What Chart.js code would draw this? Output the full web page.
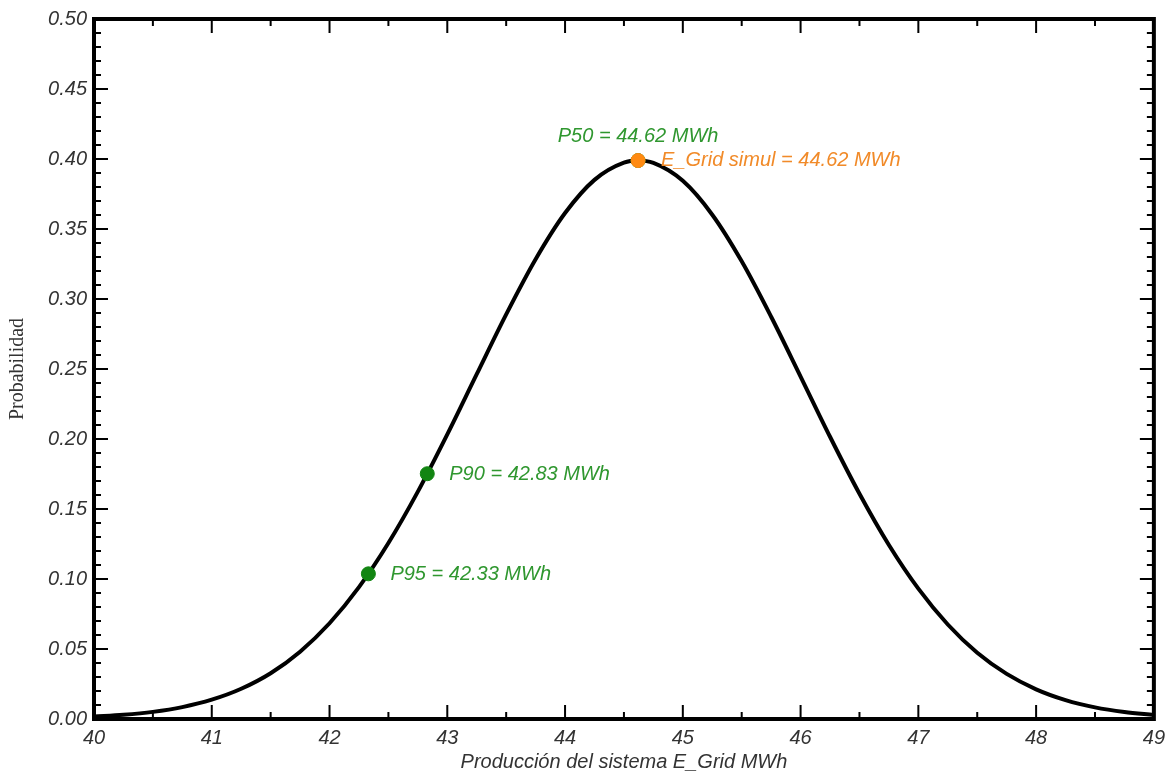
<!DOCTYPE html>
<html>
<head>
<meta charset="utf-8">
<script src="https://cdn.jsdelivr.net/npm/chart.js@4.4.1/dist/chart.umd.min.js"></script>
<style>
  html, body { margin: 0; padding: 0; background: #fff; }
  #wrap { width: 1172px; height: 778px; }
</style>
</head>
<body>
<div id="wrap"><canvas id="chart"></canvas></div>
<script>
// curve
var xVals = [40, 40.25, 40.5, 40.75, 41, 41.25, 41.5, 41.75, 42, 42.25, 42.5, 42.75,
             43, 43.25, 43.5, 43.75, 44, 44.25, 44.5, 44.62, 44.75, 45, 45.25, 45.5, 45.75,
             46, 46.25, 46.5, 46.75, 47, 47.25, 47.5, 47.75, 48, 48.25, 48.5, 48.75, 49];
var yVals = [0.0017, 0.0030, 0.0051, 0.0085, 0.0138, 0.0216, 0.0327, 0.0481, 0.0684, 0.0942, 0.1257, 0.1624,
             0.2033, 0.2463, 0.2890, 0.3284, 0.3614, 0.3851, 0.3974, 0.3989, 0.3972, 0.3844, 0.3602, 0.3269, 0.2873,
             0.2446, 0.2016, 0.1609, 0.1243, 0.0931, 0.0675, 0.0473, 0.0322, 0.0212, 0.0135, 0.0083, 0.0050, 0.0029];

// marked points
var simX = [44.62], simY = [0.3989];
var pX = [44.62, 42.83, 42.33];
var pY = [0.3989, 0.1752, 0.1037];
var pLabels = ['P50 = 44.62 MWh', 'P90 = 42.83 MWh', 'P95 = 42.33 MWh'];
var simLabel = 'E_Grid simul = 44.62 MWh';

var xTitle = 'Producción del sistema E_Grid MWh';
var yTitle = 'Probabilidad';

var GREEN = '#128512';
var GREEN_TXT = '#2f972f';
var ORANGE = '#ff8a12';
var ORANGE_TXT = '#f18a28';

function pairs(xs, ys) {
    return xs.map(function(x, i) { return {x: x, y: ys[i]}; });
}

// frame with inward ticks on all four sides
var framePlugin = {
    id: 'frame',
    afterDatasetsDraw(chart) {
        var ctx = chart.ctx;
        var a = chart.chartArea;
        var xs = chart.scales.x, ys = chart.scales.y;
        ctx.save();
        ctx.strokeStyle = '#000';
        ctx.lineWidth = 2;
        var i, px, len;
        for (i = 0; i <= 18; i++) {
            px = xs.getPixelForValue(40 + i * 0.5);
            len = (i % 2 === 0) ? 14 : 7;
            ctx.beginPath();
            ctx.moveTo(px, a.bottom); ctx.lineTo(px, a.bottom - len);
            ctx.moveTo(px, a.top); ctx.lineTo(px, a.top + len);
            ctx.stroke();
        }
        for (i = 0; i <= 50; i++) {
            px = ys.getPixelForValue(i * 0.01);
            len = (i % 5 === 0) ? 14 : 7;
            ctx.beginPath();
            ctx.moveTo(a.left, px); ctx.lineTo(a.left + len, px);
            ctx.moveTo(a.right, px); ctx.lineTo(a.right - len, px);
            ctx.stroke();
        }
        ctx.lineWidth = 4;
        ctx.strokeRect(a.left, a.top, a.right - a.left, a.bottom - a.top);
        ctx.restore();
    }
};

// text next to the marked points
var labelPlugin = {
    id: 'ptlabels',
    afterDatasetsDraw(chart) {
        var ctx = chart.ctx;
        var xs = chart.scales.x, ys = chart.scales.y;
        ctx.save();
        ctx.font = 'italic 20px "Liberation Sans", Arial, sans-serif';
        ctx.textBaseline = 'middle';
        // P50 sits above the peak
        ctx.fillStyle = GREEN_TXT;
        ctx.textAlign = 'center';
        ctx.fillText(pLabels[0], xs.getPixelForValue(pX[0]), ys.getPixelForValue(pY[0]) - 24);
        ctx.textAlign = 'left';
        for (var i = 1; i < pX.length; i++) {
            ctx.fillText(pLabels[i], xs.getPixelForValue(pX[i]) + 22, ys.getPixelForValue(pY[i]) + 1);
        }
        ctx.fillStyle = ORANGE_TXT;
        ctx.fillText(simLabel, xs.getPixelForValue(simX[0]) + 23, ys.getPixelForValue(simY[0]));
        ctx.restore();
    }
};

var tickFont = { family: '"Liberation Sans", Arial, sans-serif', size: 20, style: 'italic' };

var chart = new Chart(document.getElementById('chart').getContext('2d'), {
    type: 'scatter',
    data: {
        datasets: [
            {
                label: 'E_Grid simul',
                data: pairs(simX, simY),
                backgroundColor: ORANGE,
                borderColor: ORANGE,
                pointRadius: 7,
                showLine: false
            },
            {
                label: 'Percentiles',
                data: pairs(pX, pY),
                backgroundColor: GREEN,
                borderColor: GREEN,
                pointRadius: 7,
                showLine: false
            },
            {
                label: 'Probabilidad',
                data: pairs(xVals, yVals),
                borderColor: '#000',
                borderWidth: 4,
                pointRadius: 0,
                showLine: true,
                fill: false,
                cubicInterpolationMode: 'monotone'
            }
        ]
    },
    options: {
        responsive: true,
        maintainAspectRatio: false,
        animation: false,
        layout: { padding: { left: 0, top: 15, right: 18, bottom: 0 } },
        plugins: {
            legend: { display: false },
            tooltip: { enabled: false }
        },
        scales: {
            x: {
                type: 'linear',
                min: 40,
                max: 49,
                afterFit: function(s) { s.height = 59; },
                grid: { display: false, drawTicks: false },
                border: { display: false },
                ticks: {
                    stepSize: 1,
                    padding: 7,
                    color: '#333',
                    font: tickFont
                },
                title: {
                    display: true,
                    text: xTitle,
                    color: '#333',
                    padding: { top: 0, bottom: 4 },
                    font: { family: '"Liberation Sans", Arial, sans-serif', size: 20, style: 'italic' }
                }
            },
            y: {
                min: 0,
                max: 0.5,
                afterFit: function(s) { s.width = 94; },
                grid: { display: false, drawTicks: false },
                border: { display: false },
                ticks: {
                    stepSize: 0.05,
                    padding: 7,
                    color: '#333',
                    font: tickFont,
                    callback: function(v) { return v.toFixed(2); }
                },
                title: {
                    display: true,
                    text: yTitle,
                    color: '#333',
                    padding: { top: 6, bottom: 0 },
                    font: { family: '"Liberation Serif", "Times New Roman", serif', size: 20 }
                }
            }
        }
    },
    plugins: [framePlugin, labelPlugin]
});
</script>
</body>
</html>
